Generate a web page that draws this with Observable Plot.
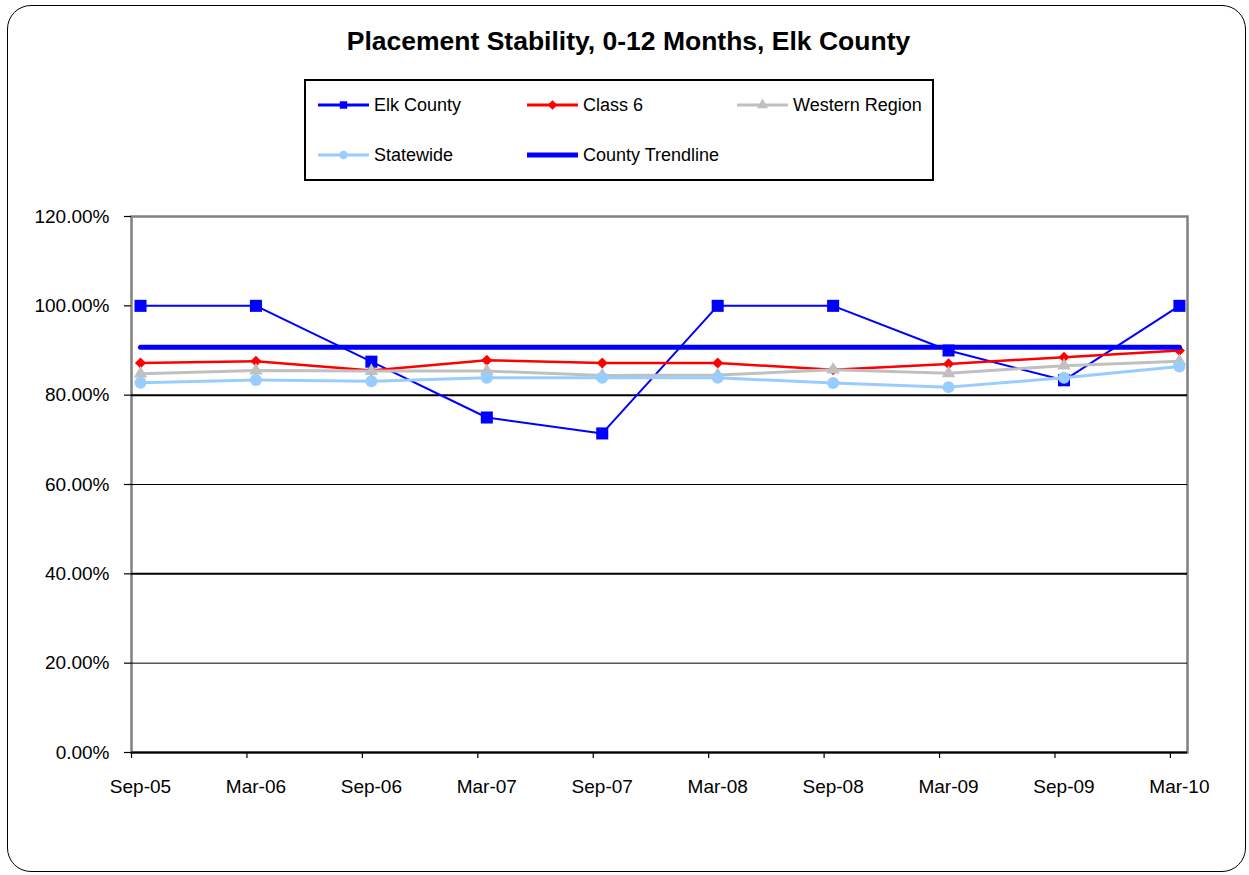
<!DOCTYPE html>
<html>
<head>
<meta charset="utf-8">
<script src="https://cdn.jsdelivr.net/npm/d3@7"></script>
<script src="https://cdn.jsdelivr.net/npm/@observablehq/plot@0.6"></script>
<style>
  body { margin: 0; background: #fff; font-family: "Liberation Sans", Arial, sans-serif; }
  #wrap { position: relative; width: 1249px; height: 875px; overflow: hidden; background: #fff; }
  #frame { position: absolute; left: 7px; top: 5px; width: 1239px; height: 867px; border: 1.5px solid #000; border-radius: 24px; box-sizing: border-box; }
  #title { position: absolute; left: 0; width: 1257px; top: 26px; text-align: center; font-weight: bold; font-size: 26.5px; color: #000; }
  #legend { position: absolute; left: 304px; top: 79px; width: 630px; height: 102px; border: 2px solid #000; box-sizing: border-box; }
  .item { position: absolute; display: flex; align-items: center; height: 20px; font-size: 18px; color: #000; white-space: nowrap; }
  .item svg { margin-right: 5px; }
  #chart { position: absolute; left: 0; top: 200px; }
</style>
</head>
<body>
<div id="wrap">
  <div id="frame"></div>
  <div id="title">Placement Stability, 0-12 Months, Elk County</div>
  <div id="legend"></div>
  <div id="chart"></div>
</div>
<script>
// Reporting periods (semi-annual)
const periods = ["Sep-05", "Mar-06", "Sep-06", "Mar-07", "Sep-07", "Mar-08", "Sep-08", "Mar-09", "Sep-09", "Mar-10"];

// Percent of children with two or fewer placements, 0-12 months in care
const elkCounty     = [100, 100, 87.5, 75, 71.43, 100, 100, 90, 83.33, 100];
const class6        = [87.2, 87.6, 85.5, 87.8, 87.2, 87.2, 85.7, 87.0, 88.5, 90.0];
const westernRegion = [84.8, 85.5, 85.4, 85.4, 84.4, 84.5, 85.7, 84.9, 86.6, 87.6];
const statewide     = [82.8, 83.4, 83.1, 83.9, 83.9, 83.9, 82.7, 81.8, 83.9, 86.4];

// Level of the county trendline (flat)
const countyTrendline = 90.73;

// Y axis ticks
const yTicks = [0, 20, 40, 60, 80, 100, 120];
const gridLevels = [20, 40, 60, 80];

const series = [
  { name: "Elk County",     values: elkCounty,     color: "#0000FF", width: 2,   symbol: "square",   r: 6.8 },
  { name: "Class 6",        values: class6,        color: "#FF0000", width: 2.5, symbol: "diamond2", r: 5 },
  { name: "Western Region", values: westernRegion, color: "#C0C0C0", width: 3,   symbol: "triangle", r: 5 },
  { name: "Statewide",      values: statewide,     color: "#99CCFF", width: 3,   symbol: "circle",   r: 6 }
];

const idx = periods.map((_, i) => i);
// Excel date axis: tick marks sit slightly before each period's point
const tickLead = 0.078;

const tables = series.map(s => s.values.map((v, i) => ({ i, v, name: s.name })));
const trendTable = [{ i: 0, v: countyTrendline }, { i: periods.length - 1, v: countyTrendline }];

const marks = [
  Plot.frame({ stroke: "#808080", strokeWidth: 2.5 }),
  Plot.ruleY(gridLevels, { stroke: "#000", strokeWidth: d => (d % 40 === 0 ? 2 : 1) }),
  Plot.ruleY([0], { stroke: "#000", strokeWidth: 2 }),
  Plot.axisY({
    ticks: yTicks, tickSize: 7, tickPadding: 15, tickFormat: d => d.toFixed(2) + "%", label: null,
    fontSize: 19, stroke: "#000", strokeWidth: 1.2, fill: "#000"
  }),
  Plot.axisX({ ticks: idx.map(i => i - tickLead), tickSize: 6, tickFormat: () => "", label: null, stroke: "#000", strokeWidth: 1.2 }),
  Plot.axisX({ ticks: idx, tickSize: 0, tickPadding: 27, tickFormat: i => periods[i], label: null, fontSize: 19, fill: "#000" })
];

series.forEach((s, k) => {
  marks.push(Plot.line(tables[k], { x: "i", y: "v", stroke: s.color, strokeWidth: s.width }));
  marks.push(Plot.dot(tables[k], { x: "i", y: "v", fill: s.color, stroke: "none", symbol: () => s.symbol, r: s.r }));
});
marks.push(Plot.line(trendTable, { x: "i", y: "v", stroke: "#0000FF", strokeWidth: 5 }));

const chart = Plot.plot({
  width: 1249,
  height: 620,
  marginLeft: 131,
  marginRight: 62,
  marginTop: 16,
  marginBottom: 68,
  style: { fontFamily: "'Liberation Sans', Arial, sans-serif", background: "transparent", color: "#000" },
  x: { type: "linear", domain: [-tickLead, periods.length - 1 + 0.07], axis: null, label: null },
  y: { domain: [0, 120], axis: null, label: null },
  symbol: { type: "identity" },
  marks
});
document.getElementById("chart").appendChild(chart);

// Legend: line samples with markers
const legendItems = [
  { s: series[0], left: 12,  top: 14 },
  { s: series[1], left: 221, top: 14 },
  { s: series[2], left: 431, top: 14 },
  { s: series[3], left: 12,  top: 64 },
  { s: { name: "County Trendline", color: "#0000FF", width: 5, symbol: null }, left: 221, top: 64 }
];
const legend = d3.select("#legend");
legendItems.forEach(({ s, left, top }) => {
  const item = legend.append("div").attr("class", "item").style("left", left + "px").style("top", top + "px");
  const svg = item.append("svg").attr("width", 51).attr("height", 20);
  svg.append("line").attr("x1", 0).attr("x2", 51).attr("y1", 10).attr("y2", 10)
    .attr("stroke", s.color).attr("stroke-width", Math.max(3, s.width));
  if (s.symbol) {
    const symMap = { square: d3.symbolSquare, diamond2: d3.symbolDiamond2, triangle: d3.symbolTriangle, circle: d3.symbolCircle };
    svg.append("path").attr("transform", "translate(25.5,10)")
      .attr("d", d3.symbol(symMap[s.symbol], s.symbol === "diamond2" ? 60 : 55)())
      .attr("fill", s.color);
  }
  item.append("span").text(s.name);
});
</script>
</body>
</html>
